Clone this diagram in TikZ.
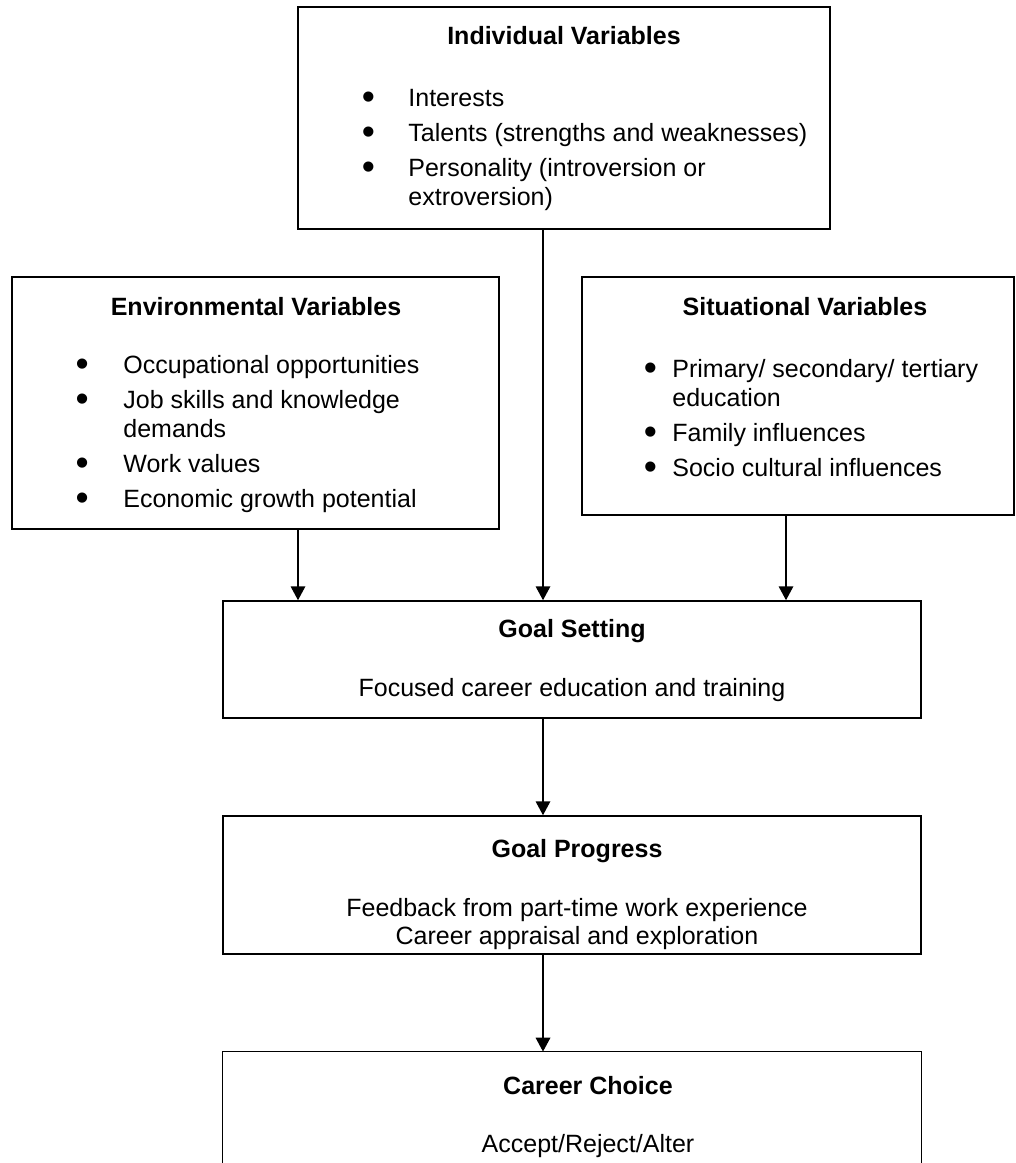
\documentclass[tikz,border=0pt]{standalone}
\usepackage{fontspec}
\setmainfont{Liberation Sans}
\usetikzlibrary{arrows.meta,fit}

% bullet hanging left of the item text
\newcommand\bul[1]{\llap{\raisebox{-1.8pt}{\fontsize{18pt}{14pt}\selectfont\textbullet}\hspace*{#1pt}}}

\begin{document}
\begin{tikzpicture}[x=0.48pt,y=-0.48pt,
    font=\fontsize{12pt}{14pt}\selectfont,
    box/.style={draw, line width=0.75pt, inner sep=0pt},
    head/.style={anchor=base, font=\fontsize{12pt}{14pt}\selectfont\bfseries},
    item/.style={anchor=base west, inner sep=0pt},
    txt/.style={anchor=base, inner sep=0pt},
    arr/.style={line width=0.75pt, -{Triangle[length=6.7pt,width=7pt]}}]
\path[use as bounding box] (0,0) rectangle (1015,1163);

% boxes
\node[box, fit={(298,7) (830,229)}] (indiv) {};
\node[box, fit={(12,277) (499,529)}] (env) {};
\node[box, fit={(582,277) (1014,515)}] (sit) {};
\node[box, fit={(223,601) (921,718)}] (gs) {};
\node[box, fit={(223,816) (921,954)}] (gp) {};
\node[inner sep=0pt, fit={(223,1052) (921,1163)}] (cc) {};
\draw[line width=0.75pt] (cc.south west) -- (cc.north west) -- (cc.north east) -- (cc.south east);

% individual
\node[head] (indivT) at (564,44) {Individual Variables};
\node[item] (indiv1) at (408,106) {\bul{16.1}Interests};
\node[item] (indiv2) at (408,141) {\bul{16.1}Talents (strengths and weaknesses)};
\node[item] (indiv3) at (408,176) {\bul{16.1}Personality (introversion or};
\node[item] (indiv4) at (408,205) {extroversion)};

% environmental
\node[head] (envT) at (256,315) {Environmental Variables};
\node[item] (env1) at (123,373) {\bul{16.6}Occupational opportunities};
\node[item] (env2) at (123,408) {\bul{16.6}Job skills and knowledge};
\node[item] (env3) at (123,437) {demands};
\node[item] (env4) at (123,472) {\bul{16.6}Work values};
\node[item] (env5) at (123,507) {\bul{16.6}Economic growth potential};

% situational
\node[head] (sitT) at (805,315) {Situational Variables};
\node[item] (sit1) at (672,377) {\bul{7.4}Primary/ secondary/ tertiary};
\node[item] (sit2) at (672,406) {education};
\node[item] (sit3) at (672,441) {\bul{7.4}Family influences};
\node[item] (sit4) at (672,476) {\bul{7.4}Socio cultural influences};

% goal setting
\node[head] (gsT) at (572,637) {Goal Setting};
\node[txt] (gs1) at (572,696) {Focused career education and training};

% goal progress
\node[head] (gpT) at (577,857) {Goal Progress};
\node[txt] (gp1) at (577,916) {Feedback from part-time work experience};
\node[txt] (gp2) at (577,944) {Career appraisal and exploration};

% career choice
\node[head] (ccT) at (588,1094) {Career Choice};
\node[txt] (cc1) at (588,1152) {Accept/Reject/Alter};

% arrows
\draw[arr] (indiv.south -| 543,0) -- (gs.north -| 543,0);
\draw[arr] (env.south -| 298,0) -- (gs.north -| 298,0);
\draw[arr] (sit.south -| 786,0) -- (gs.north -| 786,0);
\draw[arr] (gs.south -| 543,0) -- (gp.north -| 543,0);
\draw[arr] (gp.south -| 543,0) -- (cc.north -| 543,0);
\end{tikzpicture}
\end{document}
